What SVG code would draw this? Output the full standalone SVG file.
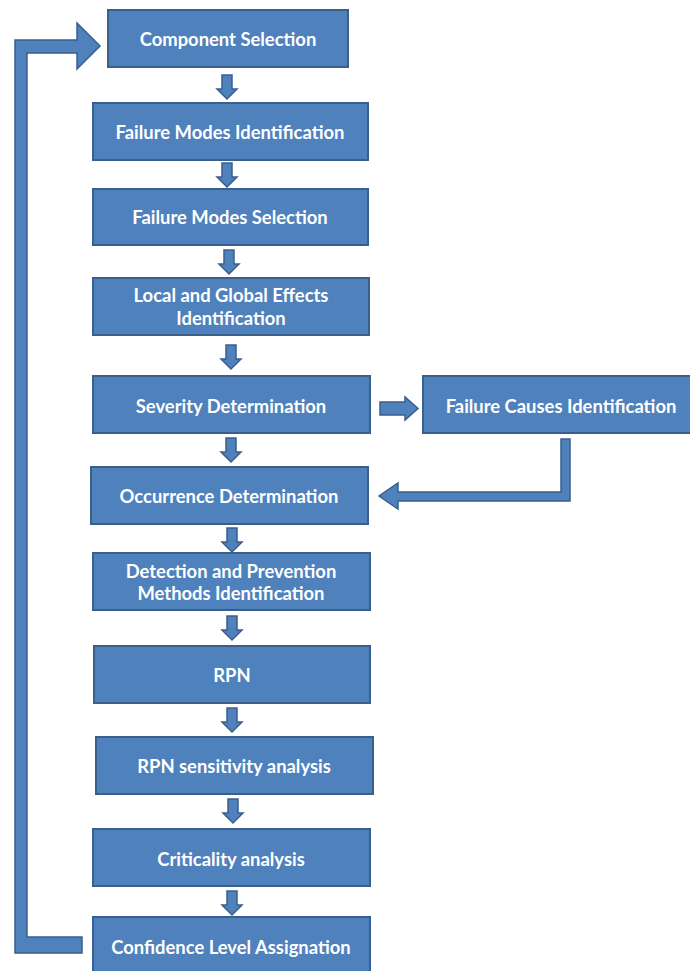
<svg xmlns="http://www.w3.org/2000/svg" width="690" height="971" viewBox="0 0 690 971">
  <style>
    .box { fill: #4f81bd; stroke: #3a5f8c; stroke-width: 2; }
    .arr { fill: #4f81bd; stroke: #3a5f8c; stroke-width: 1.5; stroke-linejoin: miter; }
    .lbl { fill: #ffffff; font-family: Lato, "Open Sans", "Liberation Sans", sans-serif; font-weight: bold; font-size: 18.4px; text-anchor: middle; }
  </style>
  <defs>
    <!-- block down-arrow, origin at top centre -->
    <path id="down" d="M-5,0 H5 V14 H10 L0,24 L-10,14 H-5 Z"/>
  </defs>
  <rect width="690" height="971" fill="#ffffff"/>

  <g id="connectors">
    <use href="#down" class="arr" x="227" y="75"/>
    <use href="#down" class="arr" x="227" y="163"/>
    <use href="#down" class="arr" x="229" y="250"/>
    <use href="#down" class="arr" x="231" y="345"/>
    <use href="#down" class="arr" x="231" y="438"/>
    <use href="#down" class="arr" x="232" y="528"/>
    <use href="#down" class="arr" x="232" y="616"/>
    <use href="#down" class="arr" x="232" y="708"/>
    <use href="#down" class="arr" x="233" y="799"/>
    <use href="#down" class="arr" x="232" y="891"/>
    <!-- severity to causes -->
    <path class="arr" d="M380,402 H405 V397 L418,408.5 L405,420 V415 H380 Z"/>
    <!-- causes back to occurrence -->
    <path class="arr" d="M561,439 H570 V501 H398 V509 L379,496 L398,483 V492 H561 Z"/>
    <!-- feedback loop to component selection -->
    <path class="arr" d="M15,953 H82 V937 H27 V53 H77 V69 L100,46 L77,23 V40 H15 Z"/>
  </g>

  <g id="component-selection">
    <rect class="box" x="108" y="10" width="240" height="57"/>
    <text class="lbl" x="228" y="46">Component Selection</text>
  </g>
  <g id="failure-modes-identification">
    <rect class="box" x="93" y="103" width="275" height="57"/>
    <text class="lbl" x="230" y="139">Failure Modes Identification</text>
  </g>
  <g id="failure-modes-selection">
    <rect class="box" x="93" y="189" width="275" height="56"/>
    <text class="lbl" x="230" y="224">Failure Modes Selection</text>
  </g>
  <g id="effects-identification">
    <rect class="box" x="93" y="278" width="276" height="57"/>
    <text class="lbl" x="231" y="302">Local and Global Effects</text>
    <text class="lbl" x="231" y="325">Identification</text>
  </g>
  <g id="severity-determination">
    <rect class="box" x="93" y="376" width="277" height="57"/>
    <text class="lbl" x="231" y="413">Severity Determination</text>
  </g>
  <g id="failure-causes-identification">
    <rect class="box" x="423" y="376" width="270" height="57"/>
    <text class="lbl" x="561" y="413">Failure Causes Identification</text>
  </g>
  <g id="occurrence-determination">
    <rect class="box" x="91" y="467" width="277" height="57"/>
    <text class="lbl" x="229" y="503">Occurrence Determination</text>
  </g>
  <g id="detection-prevention">
    <rect class="box" x="93" y="553" width="277" height="57"/>
    <text class="lbl" x="231" y="578">Detection and Prevention</text>
    <text class="lbl" x="231" y="600">Methods Identification</text>
  </g>
  <g id="rpn">
    <rect class="box" x="94" y="646" width="276" height="57"/>
    <text class="lbl" x="232" y="682">RPN</text>
  </g>
  <g id="rpn-sensitivity">
    <rect class="box" x="96" y="737" width="277" height="57"/>
    <text class="lbl" x="234" y="773">RPN sensitivity analysis</text>
  </g>
  <g id="criticality-analysis">
    <rect class="box" x="93" y="829" width="277" height="57"/>
    <text class="lbl" x="231" y="866">Criticality analysis</text>
  </g>
  <g id="confidence-level">
    <rect class="box" x="93" y="917" width="277" height="60"/>
    <text class="lbl" x="231" y="954">Confidence Level Assignation</text>
  </g>
</svg>
